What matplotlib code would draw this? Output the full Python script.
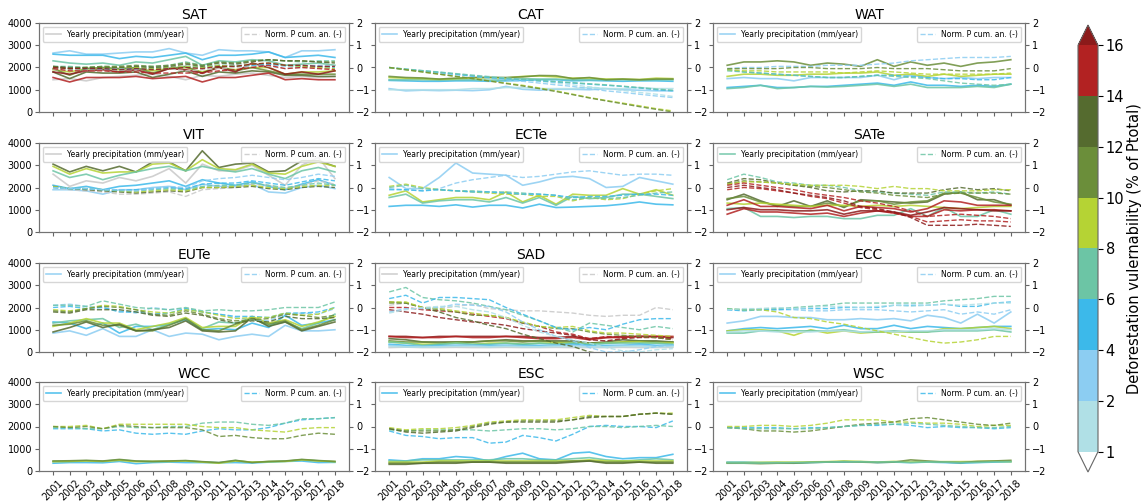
import matplotlib
matplotlib.use('Agg')
import matplotlib as mpl
import matplotlib.pyplot as plt
from matplotlib.colors import ListedColormap, BoundaryNorm

years = list(range(2001, 2019))

# vulnerability (% of Ptotal) of each line, yearly precipitation (mm/year), normalised cumulative anomaly (-)
sat_vuln = [0.6, 3.1, 5.2, 7.0, 9.1, 11.0, 13.2, 15.0, 17.5]
sat_precip = [
    [1450, 1500, 1400, 1550, 1600, 1650, 1700, 1600, 1450, 1650, 1600, 1700, 1750, 1650, 1550, 1600, 1550, 1600],
    [2650, 2750, 2600, 2600, 2650, 2700, 2700, 2850, 2650, 2550, 2800, 2750, 2750, 2700, 2450, 2750, 2750, 2800],
    [2600, 2550, 2550, 2550, 2400, 2500, 2450, 2550, 2650, 2350, 2550, 2550, 2600, 2700, 2450, 2500, 2550, 2450],
    [2300, 2200, 2150, 2200, 2100, 2250, 2200, 2350, 2500, 2100, 2300, 2250, 2350, 2300, 2100, 2150, 2200, 2100],
    [1900, 1800, 1950, 1950, 1900, 1950, 1850, 1950, 2000, 1800, 2000, 1900, 2000, 2000, 1700, 1800, 1800, 1850],
    [1950, 1650, 1950, 2000, 1950, 2000, 1750, 1950, 2050, 1750, 2050, 1850, 2000, 1850, 1700, 1700, 1700, 1700],
    [1800, 1500, 1800, 1750, 1750, 1800, 1550, 1700, 1850, 1600, 1800, 1750, 1850, 1800, 1650, 1650, 1600, 1600],
    [1550, 1350, 1550, 1550, 1550, 1600, 1500, 1550, 1600, 1350, 1550, 1550, 1650, 1750, 1450, 1500, 1450, 1450],
    [1800, 1700, 1850, 1900, 1800, 1900, 1700, 1950, 1900, 1750, 2000, 1800, 2200, 2000, 1700, 1800, 1700, 1850],
]
sat_norm = [
    [-0.1, -0.1, -0.15, -0.1, -0.1, -0.1, -0.05, -0.05, -0.15, -0.1, -0.05, 0.0, 0.05, 0.05, -0.05, 0.0, 0.0, -0.05],
    [0.0, 0.0, -0.05, -0.05, -0.05, -0.05, 0.0, 0.0, 0.05, 0.0, 0.1, 0.1, 0.1, 0.15, 0.05, 0.05, 0.1, 0.05],
    [0.0, -0.05, -0.05, -0.05, -0.1, -0.05, -0.05, 0.0, 0.05, 0.0, 0.1, 0.05, 0.1, 0.15, 0.1, 0.05, 0.05, 0.0],
    [0.05, 0.05, 0.0, 0.05, 0.0, 0.05, 0.05, 0.1, 0.25, 0.1, 0.25, 0.2, 0.3, 0.35, 0.3, 0.25, 0.3, 0.3],
    [0.0, -0.05, 0.0, 0.0, 0.0, 0.0, -0.05, 0.0, 0.05, 0.0, 0.1, 0.05, 0.15, 0.2, 0.1, 0.05, 0.0, -0.05],
    [0.05, -0.05, 0.0, 0.05, 0.05, 0.1, 0.05, 0.1, 0.2, 0.1, 0.25, 0.2, 0.3, 0.35, 0.3, 0.3, 0.25, 0.25],
    [0.05, 0.0, 0.0, 0.0, 0.0, 0.05, 0.0, 0.05, 0.15, 0.05, 0.2, 0.15, 0.25, 0.35, 0.3, 0.3, 0.25, 0.2],
    [-0.05, -0.15, -0.15, -0.15, -0.2, -0.2, -0.25, -0.25, -0.25, -0.25, -0.15, -0.1, 0.0, 0.1, -0.05, 0.0, -0.05, -0.1],
    [0.0, -0.05, -0.05, -0.05, -0.1, -0.05, -0.1, -0.05, 0.0, -0.05, 0.05, 0.05, 0.15, 0.2, 0.1, 0.1, 0.05, 0.05],
]

cat_vuln = [3.0, 1.5, 5.1, 7.2, 9.0, 11.3]
cat_precip = [
    [1050, 950, 980, 960, 980, 960, 1000, 1150, 1020, 980, 1020, 1020, 1000, 1050, 1000, 980, 950, 950],
    [1000, 1000, 1000, 1000, 1000, 1050, 1050, 1100, 1100, 1050, 1050, 1050, 1100, 1050, 1050, 1100, 1050, 1050],
    [1420, 1400, 1380, 1380, 1400, 1400, 1380, 1400, 1420, 1450, 1450, 1400, 1420, 1400, 1380, 1400, 1400, 1380],
    [1450, 1450, 1450, 1430, 1450, 1450, 1430, 1450, 1500, 1480, 1480, 1450, 1450, 1450, 1450, 1430, 1450, 1450],
    [1550, 1520, 1500, 1470, 1500, 1530, 1540, 1530, 1600, 1620, 1580, 1520, 1530, 1480, 1480, 1460, 1520, 1500],
    [1600, 1550, 1530, 1480, 1520, 1550, 1560, 1550, 1580, 1640, 1630, 1500, 1550, 1450, 1480, 1450, 1480, 1480],
]
cat_norm = [
    [0.0, -0.1, -0.18, -0.25, -0.33, -0.4, -0.48, -0.55, -0.62, -0.7, -0.78, -0.85, -0.95, -1.05, -1.12, -1.2, -1.28, -1.35],
    [-0.02, -0.08, -0.14, -0.2, -0.27, -0.34, -0.4, -0.47, -0.55, -0.62, -0.7, -0.78, -0.87, -0.95, -1.03, -1.12, -1.2, -1.3],
    [0.0, -0.08, -0.15, -0.22, -0.3, -0.38, -0.45, -0.5, -0.55, -0.6, -0.65, -0.7, -0.75, -0.8, -0.85, -0.92, -1.0, -1.05],
    [0.0, -0.07, -0.14, -0.21, -0.28, -0.35, -0.42, -0.48, -0.53, -0.58, -0.63, -0.68, -0.73, -0.78, -0.84, -0.9, -0.97, -1.02],
    [0.0, -0.1, -0.2, -0.3, -0.4, -0.5, -0.6, -0.7, -0.8, -0.92, -1.05, -1.2, -1.35, -1.48, -1.6, -1.72, -1.85, -1.95],
    [0.0, -0.1, -0.2, -0.3, -0.4, -0.5, -0.61, -0.72, -0.83, -0.95, -1.08, -1.22, -1.37, -1.5, -1.63, -1.76, -1.88, -2.0],
]

wat_vuln = [3.2, 5.0, 7.1, 9.2, 11.0]
wat_precip = [
    [1500, 1550, 1500, 1500, 1400, 1550, 1550, 1550, 1550, 1650, 1450, 1650, 1550, 1500, 1550, 1500, 1550, 1550],
    [1100, 1150, 1200, 1100, 1100, 1150, 1150, 1200, 1250, 1300, 1200, 1350, 1200, 1200, 1150, 1200, 1150, 1250],
    [1050, 1100, 1200, 1050, 1100, 1150, 1120, 1150, 1200, 1250, 1150, 1250, 1100, 1100, 1100, 1150, 1100, 1250],
    [1600, 1700, 1700, 1650, 1650, 1700, 1700, 1750, 1750, 1800, 1650, 1700, 1600, 1700, 1600, 1650, 1700, 1700],
    [2100, 2250, 2250, 2300, 2250, 2100, 2200, 2150, 2050, 2350, 2050, 2250, 2100, 2200, 2050, 2200, 2250, 2350],
]
wat_norm = [
    [-0.05, 0.0, 0.0, 0.05, 0.05, 0.05, 0.1, 0.1, 0.1, 0.15, 0.2, 0.3, 0.35, 0.4, 0.45, 0.45, 0.45, 0.5],
    [-0.1, -0.2, -0.25, -0.3, -0.35, -0.4, -0.45, -0.45, -0.4, -0.35, -0.35, -0.4, -0.45, -0.5, -0.5, -0.55, -0.55, -0.45],
    [-0.15, -0.2, -0.25, -0.3, -0.35, -0.4, -0.45, -0.45, -0.4, -0.35, -0.4, -0.45, -0.5, -0.6, -0.7, -0.75, -0.8, -0.75],
    [-0.1, -0.15, -0.15, -0.2, -0.2, -0.2, -0.2, -0.25, -0.2, -0.15, -0.2, -0.25, -0.3, -0.3, -0.3, -0.3, -0.3, -0.25],
    [-0.05, -0.05, -0.05, -0.05, 0.0, 0.0, -0.05, -0.05, -0.05, 0.0, -0.05, -0.05, -0.05, -0.1, -0.15, -0.15, -0.15, -0.05],
]

vit_vuln = [0.5, 13.1, 9.0, 7.3, 5.1, 3.2]
vit_precip = [
    [2600, 2050, 2300, 2200, 2450, 2300, 2500, 2850, 2200, 3050, 2750, 2750, 3000, 2550, 2100, 3000, 3350, 2400],
    [3050, 2700, 2950, 2750, 2950, 2700, 3150, 3150, 2750, 3650, 2900, 3050, 3100, 2700, 2750, 3200, 3200, 2950],
    [2950, 2600, 2850, 2650, 2700, 2700, 3050, 3100, 2750, 3250, 2850, 2800, 3050, 2650, 2600, 2950, 3150, 2950],
    [2750, 2450, 2600, 2350, 2550, 2700, 2850, 2950, 2750, 2950, 2800, 2700, 2850, 2600, 2400, 2750, 2900, 2700],
    [2100, 1950, 2050, 1900, 2050, 2100, 2200, 2300, 2050, 2350, 2200, 2100, 2250, 2050, 1900, 2150, 2350, 2100],
    [1900, 1900, 1850, 1700, 1900, 1900, 2000, 2050, 1900, 2150, 2050, 2050, 2150, 1800, 1750, 2000, 2100, 1950],
]
vit_norm = [
    [0.0, -0.1, -0.15, -0.2, -0.3, -0.3, -0.25, -0.2, -0.4, -0.1, -0.05, 0.0, 0.15, 0.1, -0.05, 0.1, 0.3, 0.15],
    [0.05, -0.05, -0.1, -0.15, -0.2, -0.25, -0.2, -0.15, -0.2, 0.0, 0.0, 0.0, 0.05, -0.05, -0.1, 0.0, 0.05, 0.0],
    [0.05, -0.05, -0.05, -0.1, -0.15, -0.2, -0.15, -0.1, -0.15, 0.0, 0.0, 0.05, 0.1, 0.0, -0.05, 0.05, 0.1, 0.1],
    [0.0, -0.05, -0.05, -0.1, -0.15, -0.15, -0.1, -0.05, -0.1, 0.05, 0.1, 0.1, 0.2, 0.1, 0.0, 0.1, 0.2, 0.1],
    [0.0, -0.05, -0.05, -0.1, -0.1, -0.1, -0.05, 0.0, -0.05, 0.15, 0.2, 0.2, 0.3, 0.2, 0.1, 0.25, 0.4, 0.3],
    [0.0, -0.05, -0.05, -0.1, -0.1, -0.15, -0.05, 0.05, 0.0, 0.3, 0.4, 0.45, 0.55, 0.45, 0.35, 0.45, 0.6, 0.5],
]

ecte_vuln = [3.1, 9.2, 7.0, 5.3]
ecte_precip = [
    [2450, 1950, 1950, 2450, 3100, 2650, 2600, 2550, 2100, 2250, 2450, 2500, 2400, 2000, 2050, 2450, 2300, 2150],
    [1650, 1850, 1350, 1450, 1550, 1550, 1450, 1800, 1350, 1650, 1250, 1700, 1650, 1650, 1950, 1700, 1900, 1650],
    [1550, 1700, 1300, 1400, 1450, 1450, 1350, 1550, 1300, 1550, 1200, 1600, 1500, 1550, 1700, 1700, 1600, 1500],
    [1150, 1200, 1200, 1150, 1220, 1120, 1200, 1200, 1080, 1250, 1100, 1120, 1150, 1180, 1250, 1350, 1250, 1220],
]
ecte_norm = [
    [-0.05, -0.1, -0.15, -0.05, 0.2, 0.35, 0.45, 0.55, 0.45, 0.5, 0.6, 0.7, 0.75, 0.65, 0.55, 0.6, 0.6, 0.55],
    [0.05, 0.15, 0.0, -0.1, -0.15, -0.2, -0.25, -0.3, -0.3, -0.4, -0.4, -0.6, -0.45, -0.55, -0.5, -0.3, -0.15, -0.05],
    [0.0, 0.1, -0.05, -0.1, -0.15, -0.15, -0.2, -0.2, -0.25, -0.3, -0.35, -0.55, -0.45, -0.5, -0.45, -0.35, -0.25, -0.2],
    [-0.1, -0.1, -0.15, -0.1, -0.15, -0.2, -0.2, -0.25, -0.3, -0.3, -0.35, -0.45, -0.4, -0.4, -0.35, -0.3, -0.3, -0.35],
]

sate_vuln = [7.1, 13.0, 11.2, 9.3, 15.1, 14.6, 17.2]
sate_precip = [
    [1050, 1100, 700, 700, 650, 700, 700, 600, 600, 750, 750, 1050, 700, 1100, 700, 700, 1000, 800],
    [1450, 1700, 1400, 1150, 1400, 1150, 1400, 1100, 1450, 1400, 1350, 1300, 1350, 1700, 1800, 1450, 1450, 1200],
    [1500, 1600, 1350, 1200, 1150, 1150, 1300, 1150, 1400, 1400, 1250, 1350, 1400, 1750, 1750, 1550, 1350, 1250],
    [1300, 1250, 1300, 1250, 1200, 1150, 1200, 1200, 1150, 1200, 1150, 1200, 1150, 1100, 1050, 1100, 1150, 1150],
    [1200, 1450, 1150, 1150, 1100, 1050, 1200, 950, 1150, 1100, 1050, 900, 1050, 1400, 1350, 1200, 1200, 1200],
    [800, 1050, 900, 900, 850, 800, 850, 700, 850, 950, 850, 700, 700, 1000, 950, 1000, 1000, 950],
    [1000, 1100, 1000, 1000, 950, 950, 1000, 800, 950, 950, 900, 750, 900, 1100, 1050, 1000, 950, 950],
]
sate_norm = [
    [0.35, 0.6, 0.45, 0.25, 0.2, 0.1, 0.1, 0.0, -0.15, -0.2, -0.25, -0.3, -0.35, -0.2, -0.2, -0.25, -0.2, -0.3],
    [0.2, 0.4, 0.35, 0.2, 0.1, 0.0, -0.15, -0.2, -0.15, -0.15, -0.25, -0.25, -0.25, -0.1, 0.0, -0.1, -0.05, -0.15],
    [0.15, 0.3, 0.25, 0.2, 0.1, 0.05, 0.0, -0.1, -0.2, -0.25, -0.35, -0.4, -0.45, -0.3, -0.25, -0.25, -0.25, -0.3],
    [0.15, 0.25, 0.25, 0.2, 0.15, 0.1, 0.1, 0.1, 0.05, -0.05, 0.05, -0.05, -0.05, -0.15, -0.15, -0.15, -0.1, -0.1],
    [0.1, 0.2, 0.1, 0.0, -0.1, -0.25, -0.35, -0.45, -0.6, -0.7, -0.85, -1.05, -1.3, -1.25, -1.2, -1.25, -1.3, -1.4],
    [-0.1, 0.0, -0.05, -0.15, -0.25, -0.4, -0.5, -0.7, -0.9, -1.0, -1.15, -1.3, -1.55, -1.5, -1.45, -1.5, -1.5, -1.55],
    [0.0, 0.1, 0.0, -0.1, -0.25, -0.35, -0.45, -0.6, -0.85, -0.95, -1.1, -1.35, -1.7, -1.7, -1.7, -1.65, -1.7, -1.75],
]

eute_vuln = [3.0, 5.2, 7.1, 9.0, 11.1, 12.9]
eute_precip = [
    [850, 950, 750, 1050, 700, 700, 1000, 700, 850, 800, 550, 700, 800, 700, 1200, 950, 950, 1000],
    [1350, 1300, 1050, 1300, 850, 1150, 1150, 1250, 1450, 1000, 1050, 1000, 1300, 1100, 1650, 1200, 1300, 1450],
    [1300, 1400, 1450, 1500, 1100, 1250, 1000, 1250, 1500, 1050, 1350, 1300, 1500, 1200, 1350, 1050, 1300, 1700],
    [1150, 1300, 1500, 1300, 1300, 1000, 1150, 1300, 1550, 1100, 1150, 1150, 1600, 1300, 1450, 1150, 1350, 1600],
    [1200, 1250, 1400, 1200, 1200, 950, 950, 1200, 1500, 1000, 950, 1250, 1500, 1250, 1400, 1000, 1200, 1450],
    [900, 1100, 1350, 1100, 1250, 950, 1000, 1100, 1400, 950, 900, 950, 1550, 1150, 1350, 950, 1150, 1350],
]
eute_norm = [
    [0.1, 0.15, 0.05, 0.0, -0.15, -0.25, 0.0, -0.1, -0.05, -0.2, -0.3, -0.45, -0.55, -0.6, -0.3, -0.25, -0.3, -0.05],
    [0.0, 0.05, -0.05, 0.0, -0.2, -0.2, -0.3, -0.25, -0.05, -0.2, -0.3, -0.4, -0.4, -0.45, -0.25, -0.25, -0.2, 0.0],
    [0.1, 0.1, 0.05, 0.3, 0.15, 0.0, -0.05, -0.1, 0.0, -0.15, -0.1, -0.15, -0.15, -0.1, 0.0, 0.0, 0.0, 0.25],
    [-0.1, -0.15, -0.05, 0.1, 0.05, -0.1, -0.2, -0.25, -0.1, -0.2, -0.35, -0.5, -0.45, -0.45, -0.25, -0.35, -0.3, 0.0],
    [-0.15, -0.2, -0.05, 0.05, 0.0, -0.1, -0.3, -0.35, -0.15, -0.3, -0.5, -0.6, -0.55, -0.5, -0.3, -0.35, -0.45, -0.35],
    [-0.2, -0.25, -0.1, -0.1, -0.1, -0.2, -0.35, -0.4, -0.25, -0.35, -0.55, -0.7, -0.6, -0.65, -0.4, -0.5, -0.5, -0.45],
]

sad_vuln = [0.7, 17.8, 15.2, 13.0, 11.1, 9.2, 7.0, 5.1, 3.0, 1.4]
sad_precip = [
    [200, 220, 200, 200, 210, 200, 200, 210, 200, 200, 210, 200, 200, 200, 210, 200, 200, 210],
    [700, 700, 650, 700, 700, 700, 700, 700, 700, 650, 650, 700, 600, 650, 700, 700, 700, 650],
    [700, 650, 650, 650, 700, 650, 650, 700, 650, 600, 600, 650, 550, 650, 650, 700, 700, 700],
    [600, 550, 450, 450, 450, 450, 500, 550, 500, 500, 500, 500, 400, 450, 550, 500, 500, 450],
    [500, 450, 450, 400, 450, 450, 500, 500, 450, 500, 450, 450, 400, 400, 450, 500, 450, 450],
    [450, 400, 350, 350, 400, 350, 400, 400, 350, 400, 400, 400, 350, 400, 450, 450, 400, 400],
    [450, 400, 300, 350, 400, 350, 350, 400, 350, 400, 350, 400, 350, 400, 400, 400, 400, 350],
    [350, 300, 250, 300, 300, 300, 300, 300, 300, 300, 300, 350, 300, 300, 300, 350, 300, 300],
    [300, 250, 250, 250, 300, 300, 250, 300, 250, 250, 300, 300, 250, 250, 300, 300, 250, 300],
    [250, 230, 220, 230, 250, 250, 230, 250, 240, 230, 250, 250, 230, 230, 250, 250, 230, 250],
]
sad_norm = [
    [0.1, 0.2, 0.0, -0.05, 0.05, 0.15, -0.05, -0.1, -0.15, -0.15, -0.2, -0.25, -0.35, -0.4, -0.35, -0.35, 0.0, -0.1],
    [-0.1, -0.2, -0.3, -0.45, -0.55, -0.65, -0.7, -0.8, -0.95, -1.05, -1.15, -1.25, -1.45, -1.5, -1.4, -1.35, -1.35, -1.4],
    [0.0, 0.0, -0.1, -0.15, -0.2, -0.3, -0.4, -0.5, -0.7, -0.85, -1.1, -1.2, -1.4, -1.3, -1.35, -1.3, -1.35, -1.45],
    [0.25, 0.2, 0.0, -0.2, -0.45, -0.6, -0.8, -0.95, -1.2, -1.4, -1.6, -1.75, -2.0, -2.1, -2.2, -2.3, -2.3, -2.4],
    [0.2, 0.2, 0.0, -0.1, -0.2, -0.35, -0.35, -0.45, -0.7, -0.85, -0.95, -0.95, -1.1, -1.2, -1.25, -1.3, -1.35, -1.45],
    [0.25, 0.25, 0.0, -0.05, -0.15, -0.25, -0.35, -0.45, -0.65, -0.85, -0.9, -0.85, -1.05, -1.15, -1.15, -1.2, -1.25, -1.3],
    [0.7, 0.9, 0.45, 0.35, 0.3, 0.2, 0.05, -0.1, -0.35, -0.6, -0.9, -1.1, -0.7, -0.8, -0.9, -1.0, -0.85, -0.95],
    [0.4, 0.55, 0.2, 0.45, 0.45, 0.4, 0.35, 0.0, -0.3, -0.6, -0.9, -1.0, -0.9, -1.0, -0.75, -0.55, -0.5, -0.5],
    [-0.2, -0.05, -0.05, 0.0, 0.15, 0.1, 0.05, -0.2, -0.65, -1.0, -1.3, -1.5, -1.8, -2.0, -2.0, -1.9, -1.75, -1.7],
    [-0.25, -0.1, 0.0, 0.05, 0.05, -0.1, -0.2, -0.45, -0.8, -1.1, -1.3, -1.45, -1.6, -1.8, -1.95, -2.0, -1.9, -1.85],
]

ecc_vuln = [3.3, 5.0, 9.1, 7.2, 1.6]
ecc_precip = [
    [1300, 1400, 1600, 1600, 1550, 1550, 1450, 1450, 1500, 1450, 1500, 1400, 1650, 1550, 1300, 1700, 1300, 1800],
    [950, 1050, 1100, 1050, 1100, 1150, 1050, 1200, 1050, 1050, 1200, 1050, 1150, 1100, 1050, 1100, 1150, 1150],
    [950, 1000, 1000, 950, 750, 1000, 850, 950, 850, 900, 900, 900, 900, 1050, 1050, 1100, 1150, 1050],
    [850, 850, 950, 950, 950, 950, 950, 1000, 900, 900, 950, 900, 900, 950, 950, 950, 1000, 900],
    [900, 950, 950, 900, 900, 900, 950, 950, 900, 950, 900, 950, 950, 1000, 1000, 1000, 1050, 1000],
]
ecc_norm = [
    [-0.1, -0.1, -0.1, -0.1, -0.1, -0.15, -0.15, -0.1, -0.1, -0.1, -0.15, -0.2, -0.15, -0.1, -0.3, -0.2, -0.3, -0.1],
    [-0.1, -0.15, -0.1, -0.1, -0.05, -0.05, -0.05, 0.0, 0.0, 0.0, 0.1, 0.1, 0.1, 0.15, 0.05, 0.05, 0.2, 0.25],
    [-0.05, -0.1, -0.1, -0.2, -0.45, -0.5, -0.65, -0.75, -0.9, -1.05, -1.2, -1.35, -1.5, -1.6, -1.55, -1.45, -1.3, -1.3],
    [-0.05, -0.1, -0.05, -0.05, 0.0, 0.05, 0.1, 0.2, 0.2, 0.2, 0.2, 0.2, 0.2, 0.3, 0.35, 0.4, 0.5, 0.5],
    [-0.1, -0.05, -0.05, 0.0, -0.05, 0.0, 0.05, 0.05, 0.0, 0.05, 0.1, 0.05, 0.1, 0.15, 0.1, 0.15, 0.2, 0.2],
]

wcc_vuln = [5.1, 7.0, 9.1, 11.2]
wcc_precip = [
    [350, 380, 380, 370, 430, 330, 380, 400, 380, 380, 370, 380, 360, 400, 430, 450, 380, 390],
    [430, 440, 460, 440, 500, 440, 430, 440, 460, 410, 370, 470, 390, 420, 440, 510, 460, 420],
    [420, 430, 450, 430, 480, 420, 430, 430, 450, 400, 350, 450, 400, 420, 430, 500, 450, 420],
    [450, 460, 480, 450, 520, 450, 430, 450, 470, 420, 380, 480, 380, 430, 450, 520, 470, 430],
]
wcc_norm = [
    [-0.1, -0.1, -0.1, -0.2, -0.15, -0.3, -0.35, -0.3, -0.35, -0.2, -0.1, -0.15, -0.15, -0.05, 0.15, 0.3, 0.35, 0.4],
    [-0.05, -0.05, -0.1, -0.1, 0.0, -0.05, -0.05, 0.0, 0.0, 0.15, 0.2, 0.2, 0.1, 0.05, 0.15, 0.35, 0.35, 0.4],
    [0.0, 0.0, 0.05, -0.1, 0.1, 0.1, 0.1, 0.1, 0.1, 0.0, -0.05, -0.05, -0.15, -0.2, -0.25, -0.1, -0.05, -0.05],
    [0.0, -0.05, 0.0, -0.1, 0.05, 0.0, -0.05, -0.05, -0.05, -0.15, -0.45, -0.4, -0.5, -0.55, -0.55, -0.4, -0.3, -0.35],
]

esc_vuln = [5.2, 7.1, 9.0, 11.0, 12.8]
esc_precip = [
    [500, 450, 550, 550, 650, 600, 450, 650, 800, 550, 500, 800, 850, 650, 550, 600, 600, 750],
    [450, 450, 500, 500, 500, 500, 500, 550, 550, 500, 500, 550, 600, 500, 450, 500, 550, 500],
    [400, 400, 400, 450, 450, 450, 450, 450, 450, 450, 450, 450, 500, 450, 450, 450, 450, 450],
    [350, 350, 350, 400, 400, 400, 400, 400, 400, 400, 400, 450, 450, 400, 400, 400, 400, 400],
    [300, 300, 350, 350, 350, 400, 400, 350, 350, 350, 350, 400, 450, 350, 350, 400, 350, 350],
]
esc_norm = [
    [-0.2, -0.4, -0.45, -0.55, -0.5, -0.5, -0.75, -0.7, -0.4, -0.5, -0.65, -0.35, 0.0, 0.05, 0.0, 0.0, -0.05, 0.25],
    [-0.15, -0.2, -0.15, -0.15, -0.15, -0.15, -0.2, -0.15, -0.1, -0.1, -0.15, -0.1, 0.0, 0.0, -0.05, 0.0, 0.05, 0.0],
    [-0.05, -0.15, -0.1, -0.1, -0.05, 0.05, 0.2, 0.25, 0.3, 0.3, 0.3, 0.4, 0.5, 0.45, 0.45, 0.55, 0.6, 0.6],
    [-0.1, -0.2, -0.2, -0.2, -0.15, 0.0, 0.15, 0.2, 0.25, 0.25, 0.25, 0.3, 0.45, 0.45, 0.45, 0.55, 0.6, 0.55],
    [-0.1, -0.25, -0.3, -0.25, -0.2, -0.05, 0.1, 0.2, 0.2, 0.2, 0.2, 0.3, 0.4, 0.45, 0.45, 0.55, 0.6, 0.55],
]

wsc_vuln = [5.0, 9.1, 11.0, 7.2]
wsc_precip = [
    [400, 400, 380, 380, 350, 380, 400, 400, 420, 380, 400, 380, 400, 380, 350, 380, 400, 420],
    [380, 380, 390, 400, 400, 410, 420, 450, 430, 400, 430, 400, 420, 420, 420, 430, 440, 420],
    [350, 350, 330, 350, 350, 380, 400, 420, 400, 380, 400, 500, 450, 400, 380, 430, 450, 480],
    [370, 360, 360, 370, 380, 390, 400, 420, 410, 400, 410, 380, 410, 400, 380, 390, 410, 420],
]
wsc_norm = [
    [-0.05, -0.05, -0.05, -0.05, -0.1, -0.05, -0.05, 0.0, 0.05, 0.05, 0.1, 0.05, -0.05, 0.0, -0.05, -0.05, -0.1, -0.05],
    [0.0, 0.0, 0.05, 0.05, 0.0, 0.05, 0.15, 0.3, 0.3, 0.3, 0.2, 0.2, 0.15, 0.15, 0.1, 0.0, 0.05, 0.05],
    [-0.05, -0.1, -0.2, -0.2, -0.25, -0.2, -0.1, 0.0, 0.1, 0.15, 0.2, 0.35, 0.4, 0.3, 0.2, 0.1, 0.05, 0.15],
    [-0.05, -0.1, -0.1, -0.1, -0.1, -0.1, -0.05, 0.0, 0.05, 0.1, 0.1, 0.15, 0.1, 0.05, 0.0, -0.05, -0.05, 0.0],
]

regions = ['SAT', 'CAT', 'WAT', 'VIT', 'ECTe', 'SATe', 'EUTe', 'SAD', 'ECC', 'WCC', 'ESC', 'WSC']
all_vuln = [sat_vuln, cat_vuln, wat_vuln, vit_vuln, ecte_vuln, sate_vuln,
            eute_vuln, sad_vuln, ecc_vuln, wcc_vuln, esc_vuln, wsc_vuln]
all_precip = [sat_precip, cat_precip, wat_precip, vit_precip, ecte_precip, sate_precip,
              eute_precip, sad_precip, ecc_precip, wcc_precip, esc_precip, wsc_precip]
all_norm = [sat_norm, cat_norm, wat_norm, vit_norm, ecte_norm, sate_norm,
            eute_norm, sad_norm, ecc_norm, wcc_norm, esc_norm, wsc_norm]

# classes of the colour bar
bounds = [1, 2, 4, 6, 8, 10, 12, 14, 16]
class_colors = ['#b0e0e6', '#8ccdf2', '#3cb9ea', '#6cc5a5', '#b5d334',
                '#6b8e3a', '#556b2f', '#b22222']
cmap = ListedColormap(class_colors).with_extremes(under='white', over='#8b1a1a')
line_cmap = cmap.with_extremes(under='#c8c8c8')
norm = BoundaryNorm(bounds, cmap.N)

W, H = 1144, 503
fig = plt.figure(figsize=(W / 100, H / 100), dpi=100)

col_x = [39, 375, 713]
col_w = [310, 312, 312]
row_top = [23, 143, 263, 382]
ax_h = 89

for i, name in enumerate(regions):
    r, c = divmod(i, 3)
    ax = fig.add_axes([col_x[c] / W, 1 - (row_top[r] + ax_h) / H, col_w[c] / W, ax_h / H])
    ax2 = ax.twinx()
    for k, (v, p, n) in enumerate(zip(all_vuln[i], all_precip[i], all_norm[i])):
        col = line_cmap(norm(v))
        ax.plot(years, p, color=col, lw=1.2, alpha=0.85,
                label='Yearly precipitation (mm/year)' if k == 0 else None)
        ax2.plot(years, n, color=col, lw=1.0, ls='--', alpha=0.85,
                 label='Norm. P cum. an. (-)' if k == 0 else None)

    ax.set_ylim(0, 4000)
    ax2.set_ylim(-2, 2)
    ax.set_yticks([0, 1000, 2000, 3000, 4000])
    ax2.set_yticks([-2, -1, 0, 1, 2])
    ax.set_xticks(years)
    if r == 3:
        ax.set_xticklabels(years, rotation=45, fontsize=7)
    else:
        ax.tick_params(labelbottom=False)
    if c > 0:
        ax.tick_params(labelleft=False)
    ax.tick_params(axis='y', labelsize=7)
    ax.tick_params(length=3, color='0.4', pad=2)
    ax2.tick_params(labelsize=7, length=3, color='0.4', pad=2)
    for a in (ax, ax2):
        for s in a.spines.values():
            s.set_edgecolor('0.45')
    ax.set_title(name, fontsize=10, pad=3)
    ax.legend(loc='upper left', fontsize=5.5)
    ax2.legend(loc='upper right', fontsize=5.5)

cax = fig.add_axes([1078 / W, 1 - 472 / H, 20 / W, 447 / H])
sm = mpl.cm.ScalarMappable(norm=norm, cmap=cmap)
cb = fig.colorbar(sm, cax=cax, extend='both', ticks=bounds)
cb.set_label('Deforestation vulernability (% of Ptotal)', fontsize=10.5, labelpad=2)
cb.ax.tick_params(labelsize=10.5, pad=2)
cb.outline.set_edgecolor('0.4')

plt.savefig('out.png', dpi=100)
